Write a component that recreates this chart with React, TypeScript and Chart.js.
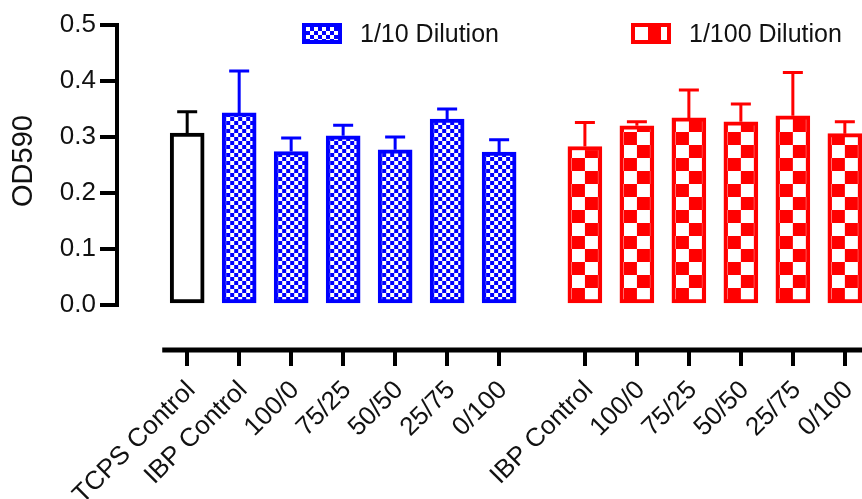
import React, { useEffect, useRef } from "react";
import { Chart, registerables } from "chart.js";

Chart.register(...registerables);

// ---------------- data ----------------
const controlLabels = ["TCPS Control"];
const dilution10Labels = ["IBP Control", "100/0", "75/25", "50/50", "25/75", "0/100"];
const dilution100Labels = ["IBP Control", "100/0", "75/25", "50/50", "25/75", "0/100"];

const controlMeans = [0.307];
const controlErrors = [0.038];
const dilution10Means = [0.343, 0.274, 0.302, 0.277, 0.332, 0.273];
const dilution10Errors = [0.075, 0.024, 0.019, 0.023, 0.018, 0.022];
const dilution100Means = [0.283, 0.320, 0.334, 0.327, 0.338, 0.306];
const dilution100Errors = [0.043, 0.007, 0.050, 0.032, 0.077, 0.021];

const yTickValues = [0, 0.1, 0.2, 0.3, 0.4, 0.5];
const legendLabels = ["1/10 Dilution", "1/100 Dilution"];
const yTitle = "OD590";

// gap (in category units) between the two dilution groups
const GROUP_GAP = 0.65;

// ---------------- styling ----------------
const FONT = "'Liberation Sans', Arial, Helvetica, sans-serif";
const BLUE = "#0000ff";
const RED = "#ff0000";
const BAR_W = 34;
const BAR_BORDER = 4;

function makeTile(size: number, sq: number, color: string) {
  const c = document.createElement("canvas");
  c.width = size;
  c.height = size;
  const g = c.getContext("2d")!;
  g.fillStyle = color;
  g.fillRect(0, 0, size, size);
  g.fillStyle = "#ffffff";
  g.fillRect(0, 0, sq, sq);
  g.fillRect(sq, sq, sq, sq);
  return c;
}

export default function App() {
  const canvasRef = useRef<HTMLCanvasElement | null>(null);

  useEffect(() => {
    const canvas = canvasRef.current;
    if (!canvas) return;

    const blueTile = makeTile(8, 4, BLUE);
    const redTile = makeTile(26, 13, RED);

    const controlX = controlLabels.map((_, i) => i);
    const d10X = dilution10Labels.map((_, i) => controlLabels.length + i);
    const d100X = dilution100Labels.map(
      (_, i) => controlLabels.length + dilution10Labels.length + GROUP_GAP + i
    );
    const tickPositions = [...controlX, ...d10X, ...d100X];
    const tickLabels = [...controlLabels, ...dilution10Labels, ...dilution100Labels];

    const patternFill = (tile: HTMLCanvasElement, fallback: string) => (c: any) => {
      if (c.type !== "data") return fallback;
      const chart = c.chart;
      const xs = chart.scales && chart.scales.x;
      const ys = chart.scales && chart.scales.y;
      if (!xs || !ys || !c.parsed) return fallback;
      const px = xs.getPixelForValue(c.parsed.x);
      const p = chart.ctx.createPattern(tile, "repeat");
      if (!p) return fallback;
      p.setTransform(
        new DOMMatrix().translate(px - BAR_W / 2 + BAR_BORDER, ys.getPixelForValue(0) - BAR_BORDER)
      );
      return p;
    };

    const errorBarPlugin = {
      id: "errorBars",
      afterDatasetsDraw(chart: any) {
        const { ctx } = chart;
        const ys = chart.scales.y;
        chart.data.datasets.forEach((ds: any, di: number) => {
          const meta = chart.getDatasetMeta(di);
          meta.data.forEach((bar: any, i: number) => {
            const v = ds.data[i].y;
            const e = ds.errors[i];
            const yTop = ys.getPixelForValue(v);
            const yErr = ys.getPixelForValue(v + e);
            ctx.save();
            ctx.strokeStyle = ds.borderColor;
            ctx.lineWidth = 3;
            ctx.beginPath();
            ctx.moveTo(bar.x, yTop);
            ctx.lineTo(bar.x, yErr);
            ctx.moveTo(bar.x - 10, yErr);
            ctx.lineTo(bar.x + 10, yErr);
            ctx.stroke();
            ctx.restore();
          });
        });
      },
    };

    const decorPlugin = {
      id: "decor",
      afterDraw(chart: any) {
        const { ctx, chartArea } = chart;
        const xs = chart.scales.x;
        const ys = chart.scales.y;
        ctx.save();
        ctx.strokeStyle = "#000";
        // y axis line (only over the tick range)
        ctx.lineWidth = 4;
        ctx.beginPath();
        ctx.moveTo(chartArea.left, ys.getPixelForValue(yTickValues[0]) + 2);
        ctx.lineTo(chartArea.left, ys.getPixelForValue(yTickValues[yTickValues.length - 1]) - 2);
        ctx.stroke();
        // detached x axis line
        ctx.lineWidth = 5;
        ctx.beginPath();
        ctx.moveTo(xs.getPixelForValue(tickPositions[0] - 0.48), chartArea.bottom);
        ctx.lineTo(chart.width, chartArea.bottom);
        ctx.stroke();

        // y title
        ctx.fillStyle = "#111";
        ctx.font = `29px ${FONT}`;
        ctx.textAlign = "center";
        ctx.textBaseline = "middle";
        ctx.save();
        const yMid =
          (ys.getPixelForValue(yTickValues[0]) + ys.getPixelForValue(yTickValues[yTickValues.length - 1])) / 2 - 4;
        ctx.translate(24, yMid);
        ctx.rotate(-Math.PI / 2);
        ctx.fillText(yTitle, 0, 0);
        ctx.restore();

        // legend
        const items = [
          { label: legendLabels[0], color: BLUE, tile: blueTile, x: 302 },
          { label: legendLabels[1], color: RED, tile: redTile, x: 631 },
        ];
        items.forEach((it) => {
          const bx = it.x, by = 23, bw = 40, bh = 21;
          ctx.fillStyle = it.color;
          ctx.fillRect(bx, by, bw, bh);
          const p = ctx.createPattern(it.tile, "repeat");
          if (p) {
            p.setTransform(new DOMMatrix().translate(bx + 4, by + 4));
            ctx.fillStyle = p;
            ctx.fillRect(bx + 4, by + 4, bw - 8, bh - 8);
          }
          ctx.fillStyle = "#111";
          ctx.font = `25px ${FONT}`;
          ctx.textAlign = "left";
          ctx.textBaseline = "middle";
          ctx.fillText(it.label, bx + 58, by + 12);
        });
        ctx.restore();
      },
    };

    const chart = new Chart(canvas, {
      type: "bar",
      data: {
        datasets: [
          {
            label: controlLabels[0],
            data: controlX.map((x, i) => ({ x, y: controlMeans[i] })),
            errors: controlErrors,
            backgroundColor: "#ffffff",
            borderColor: "#000000",
          } as any,
          {
            label: legendLabels[0],
            data: d10X.map((x, i) => ({ x, y: dilution10Means[i] })),
            errors: dilution10Errors,
            backgroundColor: patternFill(blueTile, BLUE),
            borderColor: BLUE,
          } as any,
          {
            label: legendLabels[1],
            data: d100X.map((x, i) => ({ x, y: dilution100Means[i] })),
            errors: dilution100Errors,
            backgroundColor: patternFill(redTile, RED),
            borderColor: RED,
          } as any,
        ],
      },
      options: {
        animation: false,
        responsive: false,
        devicePixelRatio: 1,
        layout: { padding: { top: 25, left: 0, right: 0, bottom: 0 } },
        datasets: {
          bar: {
            grouped: false,
            barThickness: BAR_W,
            borderWidth: BAR_BORDER,
            borderSkipped: false,
          } as any,
        },
        plugins: {
          legend: { display: false },
          tooltip: { enabled: false },
        },
        scales: {
          x: {
            type: "linear",
            min: -1.35,
            max: 12.98,
            offset: false,
            border: { display: false },
            grid: {
              offset: false,
              drawOnChartArea: false,
              drawTicks: true,
              tickLength: 16,
              lineWidth: 4,
              color: "#000",
            },
            ticks: {
              autoSkip: false,
              maxRotation: 45,
              minRotation: 45,
              padding: 9,
              labelOffset: 4,
              color: "#111",
              font: { family: FONT, size: 26 },
              callback: (_v: any, i: number) => tickLabels[i],
            },
            afterBuildTicks: (s: any) => {
              s.ticks = tickPositions.map((v) => ({ value: v }));
            },
            afterFit: (s: any) => {
              s.height = 149;
              s.paddingLeft = 0;
              s.paddingRight = 0;
            },
          },
          y: {
            type: "linear",
            min: -0.0804,
            max: 0.5,
            border: { display: false },
            grid: {
              drawOnChartArea: false,
              drawTicks: true,
              tickLength: 17,
              lineWidth: 4,
              color: "#000",
            },
            ticks: {
              padding: 4,
              color: "#111",
              font: { family: FONT, size: 26 },
              callback: (v: any) => Number(v).toFixed(1),
            },
            afterBuildTicks: (s: any) => {
              s.ticks = yTickValues.map((v) => ({ value: v }));
            },
            afterFit: (s: any) => {
              s.width = 117;
              s.paddingTop = 0;
              s.paddingBottom = 0;
            },
          },
        },
      },
      plugins: [errorBarPlugin, decorPlugin],
    } as any);

    return () => chart.destroy();
  }, []);

  return (
    <div style={{ position: "fixed", left: 0, top: 0, width: 862, height: 499, background: "#fff" }}>
      <canvas ref={canvasRef} width={862} height={499} style={{ display: "block" }} />
    </div>
  );
}
